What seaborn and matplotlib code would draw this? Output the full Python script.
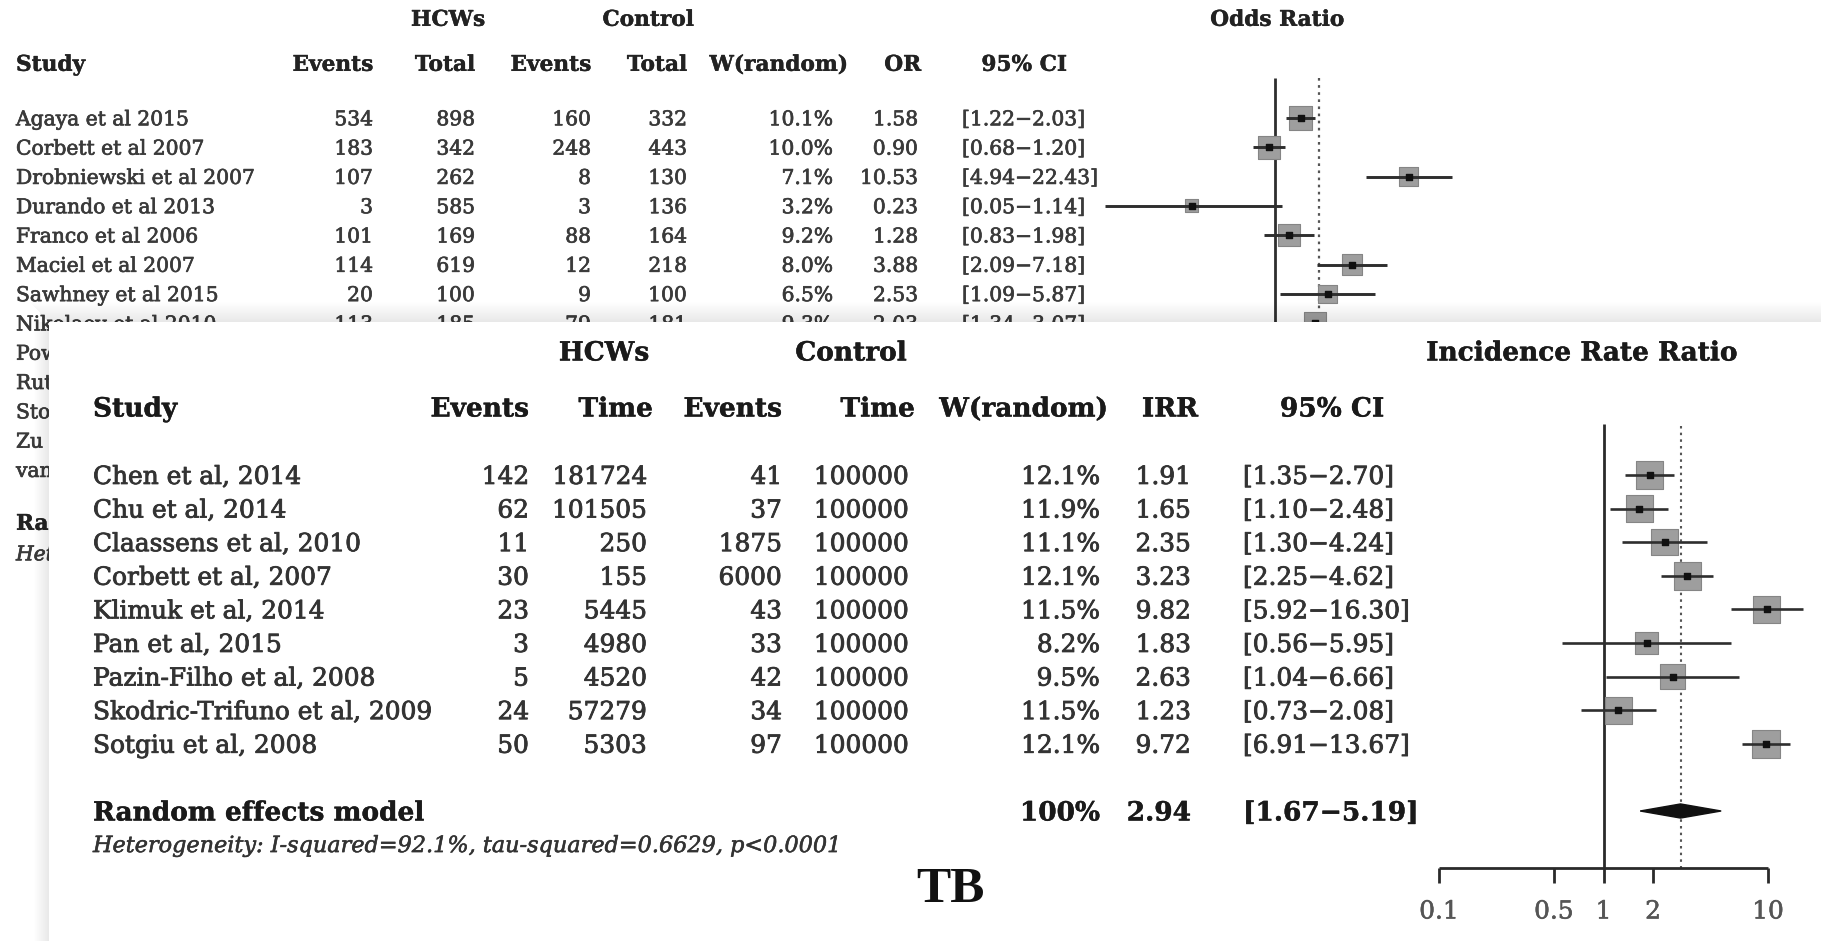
import numpy as np
import pandas as pd
import matplotlib
matplotlib.use("Agg")
import matplotlib.pyplot as plt
import matplotlib.patheffects as pe
import seaborn as sns
from matplotlib.patches import Rectangle, Polygon

sns.set_theme(style="white")
plt.rcParams['font.family'] = ['DejaVu Serif', 'DejaVu Sans']

W, H = 1821, 941

# ---------------- background panel : Odds Ratio ----------------
or_studies = ["Agaya et al 2015", "Corbett et al 2007", "Drobniewski et al 2007",
              "Durando et al 2013", "Franco et al 2006", "Maciel et al 2007",
              "Sawhney et al 2015", "Nikolaev et al 2010"]
or_hcw_events = [534, 183, 107, 3, 101, 114, 20, 113]
or_hcw_total = [898, 342, 262, 585, 169, 619, 100, 185]
or_ctl_events = [160, 248, 8, 3, 88, 12, 9, 79]
or_ctl_total = [332, 443, 130, 136, 164, 218, 100, 181]
or_weight = [10.1, 10.0, 7.1, 3.2, 9.2, 8.0, 6.5, 9.3]
or_est = [1.58, 0.90, 10.53, 0.23, 1.28, 3.88, 2.53, 2.03]
or_lo = [1.22, 0.68, 4.94, 0.05, 0.83, 2.09, 1.09, 1.34]
or_hi = [2.03, 1.20, 22.43, 1.14, 1.98, 7.18, 5.87, 3.07]
or_hidden_labels = ["Pow", "Rut", "Sto", "Zu", "van"]
or_summary_label = "Ran"
or_het_label = "Het"
or_pooled = 2.17

# ---------------- front panel : Incidence Rate Ratio ----------------
irr_studies = ["Chen et al, 2014", "Chu et al, 2014", "Claassens et al, 2010",
               "Corbett et al, 2007", "Klimuk et al, 2014", "Pan et al, 2015",
               "Pazin-Filho et al, 2008", "Skodric-Trifuno et al, 2009", "Sotgiu et al, 2008"]
irr_hcw_events = [142, 62, 11, 30, 23, 3, 5, 24, 50]
irr_hcw_time = [181724, 101505, 250, 155, 5445, 4980, 4520, 57279, 5303]
irr_ctl_events = [41, 37, 1875, 6000, 43, 33, 42, 34, 97]
irr_ctl_time = [100000, 100000, 100000, 100000, 100000, 100000, 100000, 100000, 100000]
irr_weight = [12.1, 11.9, 11.1, 12.1, 11.5, 8.2, 9.5, 11.5, 12.1]
irr_est = [1.91, 1.65, 2.35, 3.23, 9.82, 1.83, 2.63, 1.23, 9.72]
irr_lo = [1.35, 1.10, 1.30, 2.25, 5.92, 0.56, 1.04, 0.73, 6.91]
irr_hi = [2.70, 2.48, 4.24, 4.62, 16.30, 5.95, 6.66, 2.08, 13.67]
irr_pooled = [2.94, 1.67, 5.19]
irr_ticks = [0.1, 0.5, 1, 2, 10]
irr_tick_labels = ["0.1", "0.5", "1", "2", "10"]
het_text = "Heterogeneity: I-squared=92.1%, tau-squared=0.6629, p<0.0001"
panel_label = "TB"

fig = plt.figure(figsize=(W / 100, H / 100), dpi=100)
fig.patch.set_facecolor("white")


def px_axes(z):
    ax = fig.add_axes([0, 0, 1, 1], zorder=z)
    ax.set_xlim(0, W)
    ax.set_ylim(H, 0)
    ax.axis("off")
    ax.patch.set_alpha(0)
    return ax


def txt(ax, x, y, s, size, ha="left", weight="normal", style="normal",
        color="#3a3a3a", family=None, stroke=0.5):
    em = size * 100 / 72
    kw = {}
    if family:
        kw["family"] = family
    if stroke:
        kw["path_effects"] = [pe.withStroke(linewidth=stroke, foreground=color)]
    ax.text(x, y + 0.36 * em, s, ha=ha, va="baseline", fontsize=size,
            fontweight=weight, fontstyle=style, color=color, **kw)


def forest_axes(z, px_l, px_r, px_t, px_b, x_one, per_dec, row0, row_h):
    ax = fig.add_axes([px_l / W, 1 - px_b / H, (px_r - px_l) / W, (px_b - px_t) / H], zorder=z)
    ax.set_xscale("log")
    ax.axis("off")
    ax.patch.set_alpha(0)
    lims = (10 ** ((px_l - x_one) / per_dec), 10 ** ((px_r - x_one) / per_dec))
    rows = ((px_b - row0) / row_h, (px_t - row0) / row_h)
    return ax, lims, rows


# ======== background panel ========
ax_bg = px_axes(0)
tc = "#3a3a3a"
hc = "#222222"
fs_t = 14.6
fs_tb = 15.6
row_t = lambda i: 118 + 29.3 * i

txt(ax_bg, 448, 18, "HCWs", fs_tb, ha="center", weight="bold", color=hc, stroke=0.3)
txt(ax_bg, 648, 18, "Control", fs_tb, ha="center", weight="bold", color=hc, stroke=0.3)
txt(ax_bg, 1277, 18, "Odds Ratio", fs_tb, ha="center", weight="bold", color=hc, stroke=0.3)
for x, s, ha in [(16, "Study", "left"), (373, "Events", "right"), (475, "Total", "right"),
                 (591, "Events", "right"), (687, "Total", "right"), (848, "W(random)", "right"),
                 (921, "OR", "right"), (1024, "95% CI", "center")]:
    txt(ax_bg, x, 63, s, fs_tb, ha=ha, weight="bold", color=hc, stroke=0.3)

for i, s in enumerate(or_studies):
    y = row_t(i)
    txt(ax_bg, 16, y, s, fs_t, color=tc)
    txt(ax_bg, 373, y, str(or_hcw_events[i]), fs_t, ha="right", color=tc)
    txt(ax_bg, 475, y, str(or_hcw_total[i]), fs_t, ha="right", color=tc)
    txt(ax_bg, 591, y, str(or_ctl_events[i]), fs_t, ha="right", color=tc)
    txt(ax_bg, 687, y, str(or_ctl_total[i]), fs_t, ha="right", color=tc)
    txt(ax_bg, 833, y, f"{or_weight[i]:.1f}%", fs_t, ha="right", color=tc)
    txt(ax_bg, 918, y, f"{or_est[i]:.2f}", fs_t, ha="right", color=tc)
    txt(ax_bg, 962, y, f"[{or_lo[i]:.2f}\u2212{or_hi[i]:.2f}]", fs_t, color=tc)
for j, s in enumerate(or_hidden_labels):
    txt(ax_bg, 16, row_t(len(or_studies) + j), s, fs_t, color=tc)
txt(ax_bg, 16, 522, or_summary_label, fs_tb, weight="bold", color=hc, stroke=0.3)
txt(ax_bg, 16, 553, or_het_label, fs_t, style="italic", color=tc)

ax_tf, lims_t, rows_t = forest_axes(1, 1080, 1600, 60, H, 1275, 130.7, 118, 29.3)
df_or = pd.DataFrame({"row": np.arange(len(or_studies)), "est": or_est, "lo": or_lo,
                      "hi": or_hi, "w": or_weight})
ax_tf.vlines(1, (78 - 118) / 29.3, 30, color="#2e2e2e", lw=2.0, zorder=1)
ax_tf.vlines(or_pooled, (78 - 118) / 29.3, 30, color="#555555", lw=1.6,
             linestyles=(0, (1.2, 2.0)), zorder=1)
sns.scatterplot(data=df_or, x="est", y="row", size="w", sizes=(27.2 * min(or_weight), 27.2 * max(or_weight)),
                size_norm=(min(or_weight), max(or_weight)), marker="s", color="#9e9e9e",
                edgecolor="#858585", linewidth=0.8, legend=False, ax=ax_tf, zorder=3)
ax_tf.hlines(df_or["row"], df_or["lo"], df_or["hi"], color="#2e2e2e", lw=2.1, zorder=4)
ax_tf.scatter(df_or["est"], df_or["row"], s=14, marker="s", color="#111111", zorder=5)
ax_tf.set_xlim(*lims_t)
ax_tf.set_ylim(*rows_t)
ax_tf.axis("off")

# ======== front panel ========
ax_fg = px_axes(2)
# soft shadow around the overlaid panel
for k in range(20):
    a = 0.004 + 0.0045 * k
    ax_fg.add_patch(Rectangle((30 + k * 0.95, 302 + k), W, 1.05, color="black", alpha=a, lw=0))
for k in range(15):
    a = 0.004 + 0.006 * k
    ax_fg.add_patch(Rectangle((34 + k, 322), 1.05, H, color="black", alpha=a, lw=0))
ax_fg.add_patch(Rectangle((49, 322), W - 49, H - 322, color="white", lw=0))

fc = "#333333"
fh = "#1a1a1a"
fs_f = 17.9
fs_fb = 19.0
row0_f, rowh_f = 475, 33.6
row_f = lambda i: row0_f + rowh_f * i

txt(ax_fg, 604, 351, "HCWs", fs_fb, ha="center", weight="bold", color=fh, stroke=0.3)
txt(ax_fg, 851, 351, "Control", fs_fb, ha="center", weight="bold", color=fh, stroke=0.3)
txt(ax_fg, 1582, 351, "Incidence Rate Ratio", fs_fb, ha="center", weight="bold", color=fh, stroke=0.3)
for x, s, ha in [(93, "Study", "left"), (529, "Events", "right"), (653, "Time", "right"),
                 (782, "Events", "right"), (915, "Time", "right"), (1108, "W(random)", "right"),
                 (1198, "IRR", "right"), (1332, "95% CI", "center")]:
    txt(ax_fg, x, 407, s, fs_fb, ha=ha, weight="bold", color=fh, stroke=0.3)

for i, s in enumerate(irr_studies):
    y = row_f(i)
    txt(ax_fg, 93, y, s, fs_f, color=fc, stroke=0.6)
    txt(ax_fg, 529, y, str(irr_hcw_events[i]), fs_f, ha="right", color=fc, stroke=0.6)
    txt(ax_fg, 647, y, str(irr_hcw_time[i]), fs_f, ha="right", color=fc, stroke=0.6)
    txt(ax_fg, 782, y, str(irr_ctl_events[i]), fs_f, ha="right", color=fc, stroke=0.6)
    txt(ax_fg, 909, y, str(irr_ctl_time[i]), fs_f, ha="right", color=fc, stroke=0.6)
    txt(ax_fg, 1100, y, f"{irr_weight[i]:.1f}%", fs_f, ha="right", color=fc, stroke=0.6)
    txt(ax_fg, 1191, y, f"{irr_est[i]:.2f}", fs_f, ha="right", color=fc, stroke=0.6)
    txt(ax_fg, 1243, y, f"[{irr_lo[i]:.2f}\u2212{irr_hi[i]:.2f}]", fs_f, color=fc, stroke=0.6)

y_re = 811
txt(ax_fg, 93, y_re, "Random effects model", fs_fb, weight="bold", color=fh, stroke=0.3)
txt(ax_fg, 1100, y_re, "100%", fs_fb, ha="right", weight="bold", color=fh, stroke=0.3)
txt(ax_fg, 1191, y_re, f"{irr_pooled[0]:.2f}", fs_fb, ha="right", weight="bold", color=fh, stroke=0.3)
txt(ax_fg, 1243, y_re, f"[{irr_pooled[1]:.2f}\u2212{irr_pooled[2]:.2f}]", fs_fb, weight="bold",
    color=fh, stroke=0.3)
txt(ax_fg, 93, 844, het_text, 16.1, style="italic", color=fc, stroke=0.4)
txt(ax_fg, 950, 883, panel_label, 37, ha="center", weight="bold", color="#111111",
    family=["Liberation Serif", "DejaVu Serif"], stroke=0)

ax_ff, lims_f, rows_f = forest_axes(3, 1400, W, 322, H, 1603.5, 164.5, row0_f, rowh_f)
rf = lambda p: (p - row0_f) / rowh_f
df_irr = pd.DataFrame({"row": np.arange(len(irr_studies)), "est": irr_est, "lo": irr_lo,
                       "hi": irr_hi, "w": irr_weight})
axis_row = rf(868)
ax_ff.vlines(1, rf(424), axis_row, color="#2a2a2a", lw=2.0, zorder=1)
ax_ff.vlines(irr_pooled[0], rf(426), axis_row, color="#555555", lw=1.5,
             linestyles=(0, (1.2, 2.0)), zorder=1)
sns.scatterplot(data=df_irr, x="est", y="row", size="w",
                sizes=(32.4 * min(irr_weight), 32.4 * max(irr_weight)),
                size_norm=(min(irr_weight), max(irr_weight)), marker="s", color="#9e9e9e",
                edgecolor="#858585", linewidth=0.8, legend=False, ax=ax_ff, zorder=3)
ax_ff.hlines(df_irr["row"], df_irr["lo"], df_irr["hi"], color="#2e2e2e", lw=1.9, zorder=4)
ax_ff.scatter(df_irr["est"], df_irr["row"], s=16, marker="s", color="#111111", zorder=5)
# pooled diamond
dr = rf(y_re)
dh = 0.21
ax_ff.add_patch(Polygon([(irr_pooled[1], dr), (irr_pooled[0], dr - dh), (irr_pooled[2], dr),
                         (irr_pooled[0], dr + dh)], closed=True, color="#111111", zorder=4))
# x axis
ax_ff.hlines(axis_row, irr_ticks[0], irr_ticks[-1], color="#2a2a2a", lw=2.0)
ax_ff.vlines(irr_ticks, axis_row, rf(883), color="#2a2a2a", lw=2.0)
for t, lab in zip(irr_ticks, irr_tick_labels):
    ax_ff.text(t, rf(912), lab, ha="center", va="center", fontsize=fs_f, color="#555555",
               path_effects=[pe.withStroke(linewidth=0.4, foreground="#555555")])
ax_ff.set_xlim(*lims_f)
ax_ff.set_ylim(*rows_f)
ax_ff.axis("off")

fig.savefig("out.png", dpi=100)
